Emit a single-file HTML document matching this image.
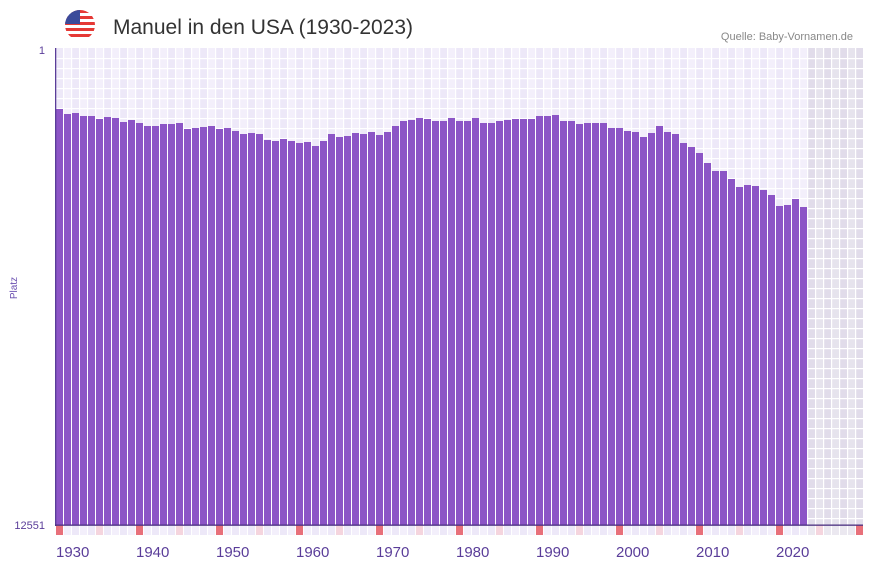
<!DOCTYPE html>
<html><head><meta charset="utf-8"><style>
body{margin:0;background:#fff;width:873px;height:567px;overflow:hidden;font-family:"Liberation Sans",sans-serif}
</style></head><body>
<svg id="s" width="873" height="567" xmlns="http://www.w3.org/2000/svg" font-family="Liberation Sans, sans-serif">
<defs><clipPath id="fc"><circle cx="80" cy="25" r="15"/></clipPath></defs>
<g clip-path="url(#fc)">
<rect x="65" y="10" width="30" height="30" fill="#fff"/>
<rect x="65" y="10" width="30" height="3" fill="#e53935"/>
<rect x="65" y="16" width="30" height="3" fill="#e53935"/>
<rect x="65" y="22" width="30" height="3" fill="#e53935"/>
<rect x="65" y="28" width="30" height="3" fill="#e53935"/>
<rect x="65" y="34" width="30" height="3" fill="#e53935"/>
<rect x="65" y="10" width="15" height="14" fill="#3b4a9a"/>
</g>
<text x="113" y="34" font-size="21" fill="#333">Manuel in den USA (1930-2023)</text>
<text x="853" y="40" font-size="11" fill="#888" text-anchor="end">Quelle: Baby-Vornamen.de</text>
<text x="45" y="54" font-size="11" fill="#5a3d99" text-anchor="end">1</text>
<text x="45" y="529" font-size="11" fill="#5a3d99" text-anchor="end">12551</text>
<text transform="translate(17,288) rotate(-90)" font-size="10" fill="#6a4fb0" text-anchor="middle">Platz</text>
<g id="g"></g>
</svg>
<script>
var tops=[109,114,113,116,116,119,117,118,122,120,123,126,126,124,124,123,129,128,127,126,129,128,131,134,133,134,140,141,139,141,143,142,146,
141,134,137,136,133,134,132,135,132,126,121,120,118,119,121,121,118,121,121,118,123,123,121,120,119,119,119,116,116,115,121,121,124,
123,123,123,128,128,131,132,137,133,126,132,134,143,147,153,163,171,171,179,187,185,186,190,195,206,205,199,207];
var h='',ns='http://www.w3.org/2000/svg';
for(var i=0;i<101;i++){var x=55+i*8,grey=i>=94;
 var c=grey?(i%2?'#e6e3ed':'#e1dcea'):(i%2?'#f3effb':'#ede8f8');
 h+='<rect x="'+x+'" y="48" width="8" height="477" fill="'+c+'"/>';
 var mc=(i%10==0)?'#e8707a':(i%5==0?'#f5d5de':(grey?'#ebe8f0':(i%2?'#f3effb':'#ede8f8')));
 h+='<rect x="'+(x+1)+'" y="525" width="7" height="10" fill="'+mc+'"/>';
 if(i%10==0&&i<=90)h+='<text x="'+(x+1)+'" y="557" font-size="15" fill="#5a3d99">'+(1930+i)+'</text>';
}
for(var y=58;y<525;y+=10)h+='<rect x="55" y="'+y+'" width="808" height="1.2" fill="#fff"/>';
for(var i=0;i<=101;i++)h+='<rect x="'+(55+i*8)+'" y="48" width="1.2" height="477" fill="#fff"/>';
for(var i=0;i<tops.length;i++)h+='<rect x="'+(56+i*8)+'" y="'+tops[i]+'" width="7" height="'+(525-tops[i])+'" fill="#8c55c6"/>';
h+='<rect x="55" y="48" width="1.3" height="478" fill="#5a3d99"/>';
h+='<rect x="55" y="524.5" width="808" height="1.3" fill="#4a2f80"/>';
document.getElementById('g').innerHTML=h;
</script>
</body></html>
